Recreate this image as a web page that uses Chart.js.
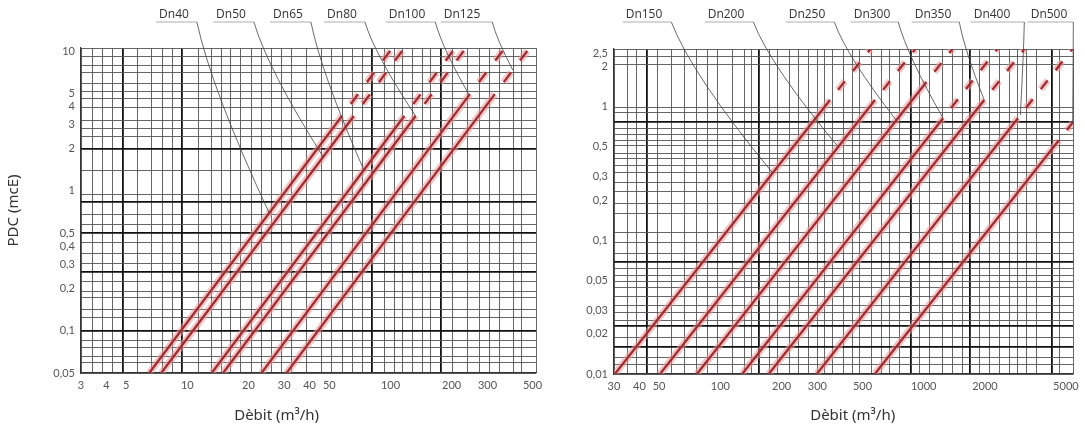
<!DOCTYPE html>
<html>
<head>
<meta charset="utf-8">
<script src="https://cdn.jsdelivr.net/npm/chart.js@4.4.1/dist/chart.umd.min.js"></script>
<style>
  body { margin: 0; background: #fff; width: 1085px; height: 432px; overflow: hidden; position: relative; }
  canvas { position: absolute; top: 0; }
  #left { left: 0; }
  #right { left: 545px; }
</style>
</head>
<body>
<canvas id="left" width="545" height="432" style="width:545px;height:432px"></canvas>
<canvas id="right" width="540" height="432" style="width:540px;height:432px"></canvas>
<script>
// ---- left chart: Dn40 .. Dn125 ----
const leftNames = ['Dn40', 'Dn50', 'Dn65', 'Dn80', 'Dn100', 'Dn125'];
// each curve: [start, end of solid part, end of dashed part] as [Q (m3/h), PDC (mcE)]
const leftLines = [
  [[6.5, 0.05], [57.7, 3.43], [102, 10.5]],
  [[7.45, 0.05], [66, 3.43], [117, 10.5]],
  [[13.2, 0.05], [117, 3.43], [208, 10.5]],
  [[15.0, 0.05], [133, 3.43], [235, 10.5]],
  [[23.2, 0.05], [246, 4.92], [365, 10.5]],
  [[30.8, 0.05], [326, 4.92], [483, 10.5]],
];
const leftLeaderAt = [0.695, 1.75, 1.41, 3.43, 4.84, 7.3]; // PDC where the label leader meets its curve
const leftXTicks = [3, 4, 5, 10, 20, 30, 40, 50, 100, 200, 300, 500];
const leftYTicks = [0.05, 0.1, 0.2, 0.3, 0.4, 0.5, 1, 2, 3, 4, 5, 10];
const leftXGrid = [3.43, 3.84, 4.3, 4.8, 5.7, 6.66, 7.54, 8.44, 9.4, 11.4, 13.2, 14.8, 16.4, 18.3, 20.7,
  23.2, 26, 29.1, 32.5, 38.5, 45.6, 51, 58.3, 65.3, 73.1, 81, 93.6, 104.7, 114.6, 128, 143.5, 157,
  178, 201, 238, 275, 308, 345, 404, 442];
const leftXBold = [4.8, 9.4, 81, 178];
const leftYGrid = [9.2, 7.9, 6.96, 5.9, 5.1, 4.54, 3.92, 3.21, 2.77, 2.43, 2, 1.39, 0.95, 0.83, 0.673,
  0.571, 0.5, 0.425, 0.36, 0.305, 0.264, 0.224, 0.19, 0.172, 0.141, 0.124, 0.1, 0.086, 0.0755, 0.0651, 0.059];
const leftYBold = [2, 0.83, 0.5, 0.264, 0.1];

// ---- right chart: Dn150 .. Dn500 ----
const rightNames = ['Dn150', 'Dn200', 'Dn250', 'Dn300', 'Dn350', 'Dn400', 'Dn500'];
const rightLines = [
  [[30.3, 0.01], [346, 1.12], [547, 2.7]],
  [[50.5, 0.01], [576, 1.12], [910, 2.7]],
  [[76.7, 0.01], [1031, 1.53], [1384, 2.7]],
  [[128, 0.01], [1245, 0.82], [2302, 2.7]],
  [[173, 0.01], [1985, 1.12], [3126, 2.7]],
  [[298, 0.01], [2906, 0.82], [5380, 2.7]],
  [[575, 0.01], [4620, 0.56], [5400, 0.76]],
];
const rightLeaderAt = [0.319, 0.5, 0.79, 0.82, 1.12, 0.865, 0.76];
const rightXTicks = [30, 40, 50, 100, 200, 300, 500, 1000, 2000, 5000];
const rightYTicks = [0.01, 0.02, 0.03, 0.05, 0.1, 0.2, 0.3, 0.5, 1, 2, 2.5];
const rightXGrid = [35.1, 38.9, 43.6, 49.3, 57.8, 67, 76.7, 86, 97.3, 115, 132, 143, 155, 175, 192, 220,
  241, 270, 302, 327, 358, 401, 444, 486, 556, 623, 682, 764, 865, 958, 1073, 1230, 1378, 1543, 1689,
  1890, 2117, 2370, 2655, 2906, 3216, 3603, 4270, 4675];
const rightXBold = [43.6, 155, 865, 1689, 4270];
const rightYGrid = [2.39, 2.05, 0.99, 0.91, 0.77, 0.69, 0.62, 0.56, 0.51, 0.45, 0.41, 0.36, 0.32, 0.273,
  0.23, 0.19, 0.16, 0.115, 0.097, 0.08, 0.069, 0.062, 0.055, 0.0488, 0.044, 0.0377, 0.0328, 0.0286,
  0.0253, 0.0229, 0.0189, 0.0159, 0.0134, 0.0117];
const rightYBold = [0.77, 0.069, 0.0229, 0.0159];

const X_TITLE = 'Dèbit (m³/h)';
const Y_TITLE = 'PDC (mcE)';

const fmt = v => String(v).replace('.', ',');

// log interpolation along a curve: Q at a given PDC
function flowAt(line, pdc) {
  for (let i = 0; i < line.length - 1; i++) {
    const [x0, y0] = line[i], [x1, y1] = line[i + 1];
    if ((pdc - y0) * (pdc - y1) <= 0) {
      const t = (Math.log(pdc) - Math.log(y0)) / (Math.log(y1) - Math.log(y0));
      return Math.exp(Math.log(x0) + t * (Math.log(x1) - Math.log(x0)));
    }
  }
  return line[line.length - 1][0];
}

function logAxis(min, max, labels, grid, bold, fit) {
  const labelSet = new Set(labels), gridSet = new Set(grid), boldSet = new Set(bold);
  return {
    type: 'logarithmic',
    min, max,
    afterBuildTicks(scale) {
      const vals = [...new Set([min, ...grid, ...labels, max])].filter(v => v >= min && v <= max).sort((a, b) => a - b);
      scale.ticks = vals.map(v => ({ value: v }));
    },
    afterFit: fit,
    ticks: {
      autoSkip: false, maxRotation: 0, minRotation: 0, padding: 6,
      color: '#555', font: { family: 'Lato', size: 11 },
      callback: v => labelSet.has(v) ? fmt(v) : '',
    },
    grid: {
      drawTicks: false,
      color: c => {
        const v = c.tick && c.tick.value;
        if (boldSet.has(v)) return '#111';
        if (gridSet.has(v) || v === min || v === max) return '#555';
        return 'rgba(0,0,0,0)';
      },
      lineWidth: c => boldSet.has(c.tick && c.tick.value) ? 1.8 : 0.9,
    },
    border: { display: true, color: '#333', width: 1.2 },
  };
}

function makeChart(id, o) {
  const seg = {
    borderDash: c => c.p0DataIndex === 1 ? o.dash : undefined,
    borderDashOffset: c => c.p0DataIndex === 1 ? o.dash[0] : 0,
  };
  // dark red curve on top (order 0), pink halo underneath (order 1)
  const core = o.lines.map((line, i) => ({
    label: o.names[i],
    data: line.map(([x, y]) => ({ x, y })),
    borderColor: '#9a2f36',
    borderWidth: 2.3,
    pointRadius: 0, tension: 0, fill: false,
    order: 0,
    segment: seg,
  }));
  const halo = o.lines.map((line, i) => ({
    label: o.names[i] + ' halo',
    data: line.map(([x, y]) => ({ x, y })),
    borderColor: 'rgba(238,150,150,0.55)',
    borderWidth: 7,
    pointRadius: 0, tension: 0, fill: false,
    order: 1,
    segment: seg,
  }));

  const annotate = {
    id: 'annotate',
    afterDraw(chart) {
      const { ctx, chartArea: a, scales: { x, y } } = chart;
      ctx.save();
      // axis titles
      ctx.fillStyle = '#333';
      ctx.font = '15px "Noto Sans"';
      ctx.textAlign = 'center';
      ctx.textBaseline = 'middle';
      ctx.fillText(X_TITLE, a.left + (a.right - a.left) * o.titleFrac, 416);
      if (o.yTitle) {
        ctx.save();
        ctx.translate(14, (a.top + a.bottom) / 2);
        ctx.rotate(-Math.PI / 2);
        ctx.fillText(o.yTitle, 0, 0);
        ctx.restore();
      }
      // curve labels with leaders
      ctx.font = '12px "Open Sans"';
      o.names.forEach((name, i) => {
        const cx = o.labelX[i];
        const w = ctx.measureText(name).width;
        ctx.fillStyle = '#333';
        ctx.fillText(name, cx, 15);
        const ux0 = cx - w / 2 - 3, ux1 = cx + w / 2 + o.ext[i];
        ctx.strokeStyle = '#999';
        ctx.lineWidth = 0.8;
        ctx.beginPath();
        ctx.moveTo(ux0, 22); ctx.lineTo(ux1, 22);
        ctx.stroke();
        const pdc = o.leaderAt[i];
        const tx = x.getPixelForValue(flowAt(o.lines[i], pdc));
        const ty = y.getPixelForValue(pdc);
        ctx.strokeStyle = '#444';
        ctx.beginPath();
        ctx.moveTo(ux1, 22);
        ctx.quadraticCurveTo(ux1 + (tx - ux1) * 0.2, 22 + (ty - 22) * 0.35, tx, ty);
        ctx.stroke();
      });
      ctx.restore();
    },
  };

  return new Chart(document.getElementById(id), {
    type: 'line',
    data: { datasets: [...core, ...halo] },
    options: {
      responsive: false,
      animation: false,
      devicePixelRatio: 1,
      layout: { padding: o.padding },
      plugins: { legend: { display: false }, tooltip: { enabled: false } },
      scales: {
        x: logAxis(o.xMin, o.xMax, o.xTicks, o.xGrid, o.xBold, s => { s.height = o.xAxisH; }),
        y: logAxis(o.yMin, o.yMax, o.yTicks, o.yGrid, o.yBold, s => { s.width = o.yAxisW; }),
      },
    },
    plugins: [annotate],
  });
}

makeChart('left', {
  names: leftNames, lines: leftLines, leaderAt: leftLeaderAt,
  xTicks: leftXTicks, yTicks: leftYTicks, xGrid: leftXGrid, yGrid: leftYGrid,
  xBold: leftXBold, yBold: leftYBold,
  xMin: 3, xMax: 520, yMin: 0.05, yMax: 10.5,
  padding: { top: 48, right: 9, bottom: 0, left: 0 },
  xAxisH: 59, yAxisW: 81,
  dash: [12, 15],
  titleFrac: 0.43, yTitle: Y_TITLE,
  labelX: [174, 231, 288, 342, 407, 462],
  ext: [8, 8, 8, 8, 10, 12],
});

makeChart('right', {
  names: rightNames, lines: rightLines, leaderAt: rightLeaderAt,
  xTicks: rightXTicks, yTicks: rightYTicks, xGrid: rightXGrid, yGrid: rightYGrid,
  xBold: rightXBold, yBold: rightYBold,
  xMin: 30, xMax: 5420, yMin: 0.01, yMax: 2.7,
  padding: { top: 49, right: 12, bottom: 0, left: 0 },
  xAxisH: 58, yAxisW: 69,
  dash: [11, 13],
  titleFrac: 0.52, yTitle: null,
  labelX: [99, 181, 262, 327, 388, 447, 504],
  ext: [9, 9, 9, 8, 8, 14, 6],
});
</script>
</body>
</html>
